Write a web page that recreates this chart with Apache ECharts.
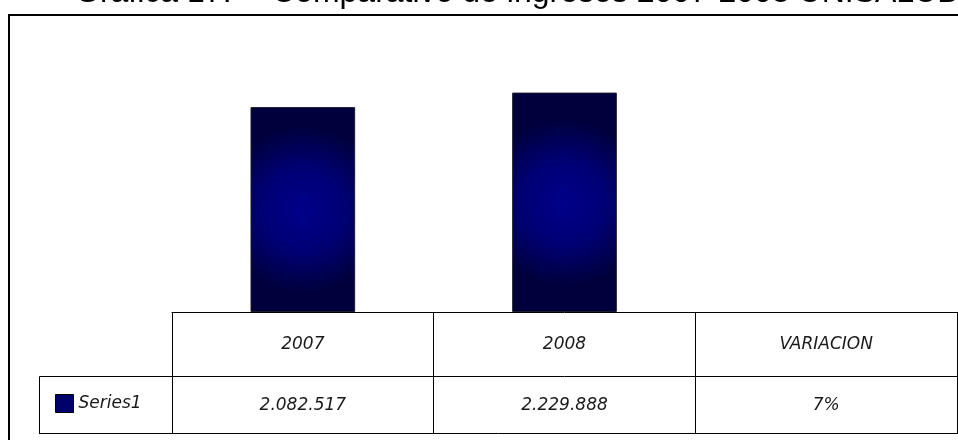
<!DOCTYPE html>
<html>
<head>
<meta charset="utf-8">
<script src="https://cdn.jsdelivr.net/npm/echarts@6/dist/echarts.min.js"></script>
<style>
  html, body { margin: 0; padding: 0; background: #fff; }
  #chart { width: 958px; height: 440px; }
</style>
</head>
<body>
<div id="chart"></div>
<script>
const titleLead = 'Gráfica 17:'
const titleText = 'Comparativo de ingresos 2007-2008 UNISALUD'
const categories = ['2007', '2008', 'VARIACION']
const seriesName = 'Series1'
const values = [2082517, 2229888, 0.07]

// 2.082.517 style thousands, percentages for the variation column
function formatValue(v) {
  if (v < 1) return Math.round(v * 100) + '%'
  return String(v).replace(/\B(?=(\d{3})+(?!\d))/g, '.')
}

const cellText = { fontFamily: 'DejaVu Sans', fontStyle: 'italic', fontSize: 17, color: '#1a1a1a' }
const blackLine = { color: '#000', width: 1 }
const barFill = {
  type: 'radial', x: 0.5, y: 0.5, r: 0.8,
  colorStops: [
    { offset: 0, color: '#00008a' },
    { offset: 0.5, color: '#000074' },
    { offset: 1, color: '#00003c' },
  ],
}

const chart = echarts.init(document.getElementById('chart'))
chart.setOption({
  animation: false,
  backgroundColor: '#fff',
  grid: { left: 172, right: 1, top: 66, bottom: 128, outerBoundsMode: 'none' },
  legend: {
    left: 50,
    top: 389,
    icon: 'rect',
    itemWidth: 18,
    itemHeight: 18,
    selectedMode: false,
    textStyle: cellText,
    data: [{ name: seriesName, itemStyle: { color: '#00006a', borderColor: '#000', borderWidth: 1 } }],
  },
  xAxis: [
    {
      type: 'category',
      data: categories,
      axisLine: { lineStyle: blackLine },
      axisTick: { show: true, length: 64, lineStyle: blackLine },
      axisLabel: { ...cellText, margin: 24 },
      splitLine: { show: false },
    },
    {
      type: 'category',
      data: categories,
      position: 'bottom',
      offset: 64,
      axisLine: { lineStyle: blackLine },
      axisTick: { show: true, length: 57, lineStyle: blackLine },
      axisLabel: { ...cellText, margin: 21, formatter: (v, i) => formatValue(values[i]) },
      splitLine: { show: false },
    },
  ],
  yAxis: { type: 'value', min: 0, max: 2500000, show: false },
  series: [{
    name: seriesName,
    type: 'bar',
    // the percentage is far too small to show as a bar, so drop its outline
    data: values.map((v) => ({ value: v, itemStyle: v < 1 ? { borderWidth: 0 } : undefined })),
    barWidth: '40%',
    itemStyle: { color: barFill, borderColor: '#1c1c2a', borderWidth: 1 },
  }],
  graphic: [
    { type: 'rect', shape: { x: 9, y: 15, width: 1000, height: 500 }, style: { fill: 'none', stroke: '#000', lineWidth: 2 } },
    { type: 'text', x: 75, y: -7, style: { text: titleLead, font: '32px "Liberation Sans"', fill: '#000', verticalAlign: 'middle' } },
    { type: 'text', x: 272, y: -7, style: { text: titleText, font: '32px "Liberation Sans"', fill: '#000', verticalAlign: 'middle' } },
    { type: 'rect', shape: { x: 39.5, y: 376.5, width: 133, height: 57 }, style: { fill: 'none', stroke: '#000', lineWidth: 1 } },
    { type: 'line', shape: { x1: 39, y1: 433.5, x2: 958, y2: 433.5 }, style: { stroke: '#000', lineWidth: 1 } },
  ],
})
</script>
</body>
</html>
